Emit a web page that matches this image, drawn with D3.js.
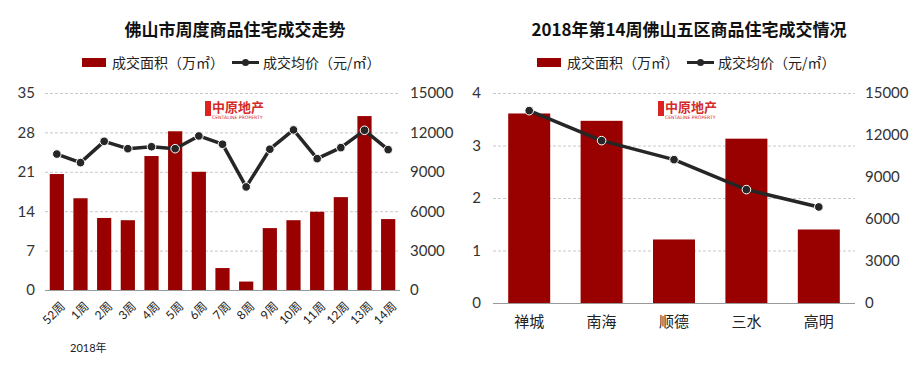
<!DOCTYPE html>
<html><head><meta charset="utf-8">
<script src="https://cdn.jsdelivr.net/npm/d3@7"></script>
<style>body{margin:0;background:#fff}svg{display:block}</style>
</head><body>
<svg id="c" width="920" height="368"></svg>
<script>
const weeks = ["52周","1周","2周","3周","4周","5周","6周","7周","8周","9周","10周","11周","12周","13周","14周"];
const weekArea = [20.6,16.3,12.8,12.4,23.8,28.2,21.0,3.9,1.5,11.0,12.4,13.9,16.5,30.9,12.6];
const weekPrice = [10350,9700,11320,10760,10910,10760,11730,11100,7850,10720,12190,10000,10840,12160,10690];
const districts = ["禅城","南海","顺德","三水","高明"];
const distArea = [3.61,3.47,1.21,3.13,1.40];
const distPrice = [13740,11600,10240,8100,6860];
const leftTicks1 = [0,7,14,21,28,35];
const leftTicks2 = [0,1,2,3,4];
const priceTicks = [0,3000,6000,9000,12000,15000];

const RED = "#990000", DARK = "#262626";
const FONT = "'Lato','Noto Sans CJK SC',sans-serif";
const svg = d3.select("#c");

function chart(o){
  const g = svg.append("g");
  const x = d3.scaleBand().domain(o.cats).range([o.x0,o.x1]).paddingInner(o.pad).paddingOuter(o.pad/2);
  const yL = d3.scaleLinear().domain([0,o.lmax]).range([o.y0,o.y1]);
  const yR = d3.scaleLinear().domain([0,15000]).range([o.y0,o.y1]);
  g.append("text").attr("x",o.tx).attr("y",36).attr("text-anchor","middle")
    .attr("font-family","'Noto Sans CJK SC',sans-serif").attr("font-weight","bold")
    .attr("font-size",17).attr("fill","#111").text(o.title);
  const lg = g.append("g").attr("font-family","'Noto Sans CJK SC',sans-serif").attr("font-size",14).attr("fill","#222");
  lg.append("rect").attr("x",o.lx).attr("y",58).attr("width",24).attr("height",9).attr("fill",RED);
  lg.append("text").attr("x",o.lx+30).attr("y",68).text("成交面积（万㎡）");
  lg.append("line").attr("x1",o.lx+150).attr("x2",o.lx+177).attr("y1",62.5).attr("y2",62.5).attr("stroke",DARK).attr("stroke-width",3);
  lg.append("circle").attr("cx",o.lx+163.5).attr("cy",62.5).attr("r",3.5).attr("fill",DARK);
  lg.append("text").attr("x",o.lx+181).attr("y",68).text("成交均价（元/㎡）");
  g.selectAll(".gr").data(o.lticks.slice(1)).join("line")
    .attr("x1",o.x0).attr("x2",o.x1).attr("y1",d=>yL(d)+0.5).attr("y2",d=>yL(d)+0.5)
    .attr("stroke","#c8c8c8").attr("stroke-dasharray","3,2").attr("stroke-width",1);
  const lo = g.append("g").attr("transform",`translate(${o.logo},0)`);
  lo.append("rect").attr("x",-30).attr("y",101).attr("width",6).attr("height",15).attr("fill","#d22");
  lo.append("text").attr("x",-23).attr("y",112).attr("font-family","'Noto Sans CJK SC',sans-serif").attr("font-weight","bold")
    .attr("font-size",13).attr("fill","#d42a2a").text("中原地产");
  lo.append("text").attr("x",-23).attr("y",118.5).attr("font-family","'DejaVu Sans',sans-serif")
    .attr("font-size",4.6).attr("fill","#d42a2a").text("CENTALINE PROPERTY");
  g.selectAll(".bar").data(o.area).join("rect")
    .attr("x",(d,i)=>x(o.cats[i])).attr("width",x.bandwidth())
    .attr("y",d=>yL(d)).attr("height",d=>yL(0)-yL(d)).attr("fill",RED);
  g.append("line").attr("x1",o.x0).attr("x2",o.x1).attr("y1",o.y0+0.5).attr("y2",o.y0+0.5).attr("stroke","#999").attr("stroke-width",1.2);
  const axL = g.append("g").attr("transform",`translate(${o.x0},0)`)
    .call(d3.axisLeft(yL).tickValues(o.lticks).tickFormat(d3.format("d")).tickSize(0).tickPadding(o.lpad));
  const axR = g.append("g").attr("transform",`translate(${o.x1},0)`)
    .call(d3.axisRight(yR).tickValues(priceTicks).tickFormat(d3.format("d")).tickSize(0).tickPadding(o.rpad));
  [axL,axR].forEach(a=>{a.select(".domain").remove();
    a.selectAll("text").attr("font-family",FONT).attr("font-size",15).attr("fill","#333");});
  const line = d3.line().x((d,i)=>x(o.cats[i])+x.bandwidth()/2).y(d=>yR(d));
  g.append("path").datum(o.price).attr("d",line).attr("fill","none").attr("stroke",DARK).attr("stroke-width",3.5).attr("stroke-linejoin","round");
  g.selectAll(".pt").data(o.price).join("circle")
    .attr("cx",(d,i)=>x(o.cats[i])+x.bandwidth()/2).attr("cy",d=>yR(d)).attr("r",4.3)
    .attr("fill",DARK).attr("stroke","#fff").attr("stroke-width",1);
  return {g,x,yL};
}

const c1 = chart({cats:weeks,area:weekArea,price:weekPrice,x0:45,x1:400,y0:290,y1:93,lmax:35,pad:0.4,
  lticks:leftTicks1,lpad:10,rpad:10,title:"佛山市周度商品住宅成交走势",tx:235,lx:82,logo:235});
const xa1 = c1.g.append("g").attr("transform","translate(0,290)")
  .call(d3.axisBottom(c1.x).tickSize(0));
xa1.select(".domain").remove();
xa1.selectAll("text").attr("font-family",FONT).attr("font-size",12).attr("fill","#222")
  .attr("text-anchor","end").attr("y",0).attr("dy","0.35em").attr("transform","translate(6,14) rotate(-45)");
c1.g.append("text").attr("x",70).attr("y",352).attr("font-family",FONT).attr("font-size",11).attr("fill","#222").text("2018年");

const c2 = chart({cats:districts,area:distArea,price:distPrice,x0:493,x1:855,y0:303,y1:93,lmax:4,pad:0.42,
  lticks:leftTicks2,lpad:12,rpad:10,title:"2018年第14周佛山五区商品住宅成交情况",tx:689,lx:537,logo:688});
const xa2 = c2.g.append("g").attr("transform","translate(0,303)")
  .call(d3.axisBottom(c2.x).tickSize(0).tickPadding(13));
xa2.select(".domain").remove();
xa2.selectAll("text").attr("font-family","'Noto Sans CJK SC',sans-serif").attr("font-size",15).attr("fill","#222");
</script>
</body></html>
